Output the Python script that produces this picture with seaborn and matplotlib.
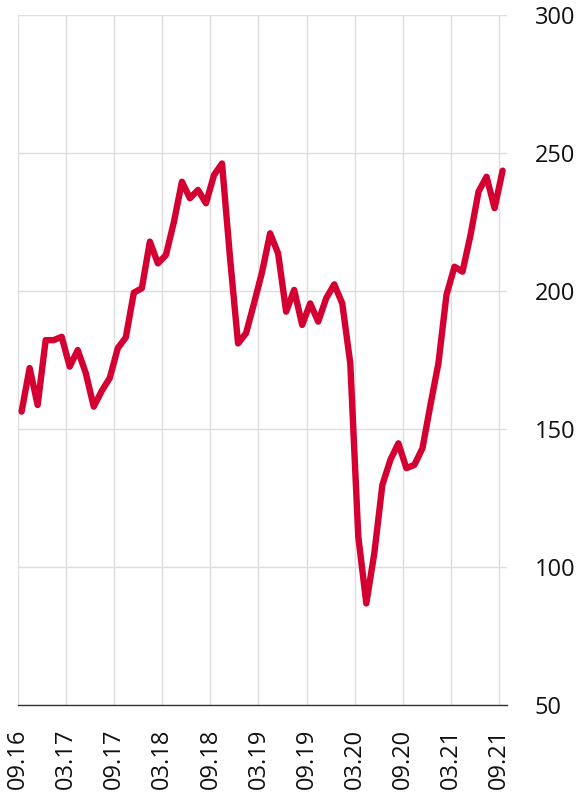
import numpy as np
import pandas as pd
import seaborn as sns
import matplotlib.pyplot as plt

# monthly values, Sep 2016 .. Sep 2021
month_index = list(range(61))
values = [
    156.3, 172.1, 158.7, 182.2, 182.2, 183.4, 172.6, 178.6, 170.3, 158.1,
    163.8, 168.5, 179.3, 183.2, 199.4, 201.0, 217.9, 210.0, 213.0, 225.0,
    239.6, 233.6, 236.6, 231.8, 242.0, 246.2, 212.0, 181.0, 184.7, 195.6,
    206.9, 220.9, 213.6, 192.5, 200.4, 187.7, 195.5, 188.9, 197.4, 202.4,
    195.5, 173.8, 111.0, 86.8, 105.0, 129.7, 138.8, 144.8, 135.8, 137.0,
    143.0, 158.7, 173.9, 198.6, 208.8, 207.0, 220.3, 236.0, 241.4, 230.0,
    243.6,
]
tick_months = [0, 6, 12, 18, 24, 30, 36, 42, 48, 54, 60]
tick_labels = ["09.16", "03.17", "09.17", "03.18", "09.18", "03.19",
               "09.19", "03.20", "09.20", "03.21", "09.21"]
y_ticks = [50, 100, 150, 200, 250, 300]

df = pd.DataFrame({"month": np.array(month_index) + 0.45, "value": values})

sns.set_style("white")
plt.rcParams["font.family"] = ["Open Sans", "DejaVu Sans"]

fig = plt.figure(figsize=(5.84, 7.98), dpi=100)
ax = fig.add_axes([18 / 584, 1 - 705 / 798, (507 - 18) / 584, (705 - 15) / 798])

sns.lineplot(data=df, x="month", y="value", ax=ax, color="#d50032",
             linewidth=4.6, solid_joinstyle="round", solid_capstyle="round")

ax.set_xlim(0, 61)
ax.set_ylim(50, 300)
ax.set_xticks(tick_months)
ax.set_xticklabels(tick_labels, rotation=90, fontsize=17, color="#111111")
ax.set_yticks(y_ticks)
ax.set_yticklabels([str(v) for v in y_ticks], fontsize=17, color="#111111")
ax.yaxis.tick_right()
ax.tick_params(axis="both", length=0)
ax.tick_params(axis="y", pad=20)
ax.tick_params(axis="x", pad=17)
ax.set_xlabel("")
ax.set_ylabel("")

ax.grid(True, color="#dddddd", linewidth=1.0)
ax.set_axisbelow(True)
for side in ["top", "right", "left"]:
    ax.spines[side].set_visible(False)
ax.spines["bottom"].set_color("#333333")
ax.spines["bottom"].set_linewidth(1.0)

fig.savefig("out.png", dpi=100)
